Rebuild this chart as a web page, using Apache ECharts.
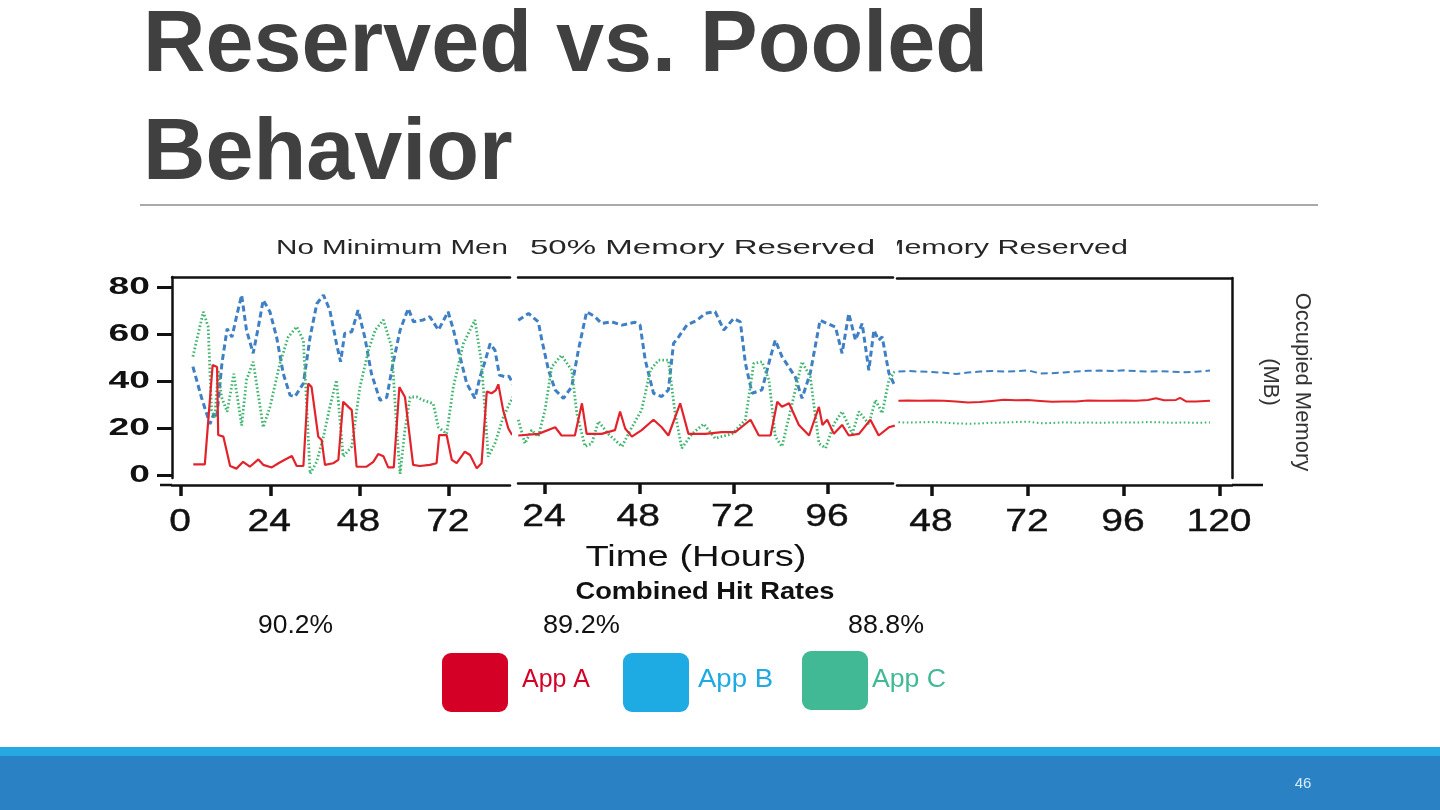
<!DOCTYPE html>
<html><head><meta charset="utf-8">
<script src="https://cdn.jsdelivr.net/npm/echarts@6/dist/echarts.min.js"></script>
<style>html,body{margin:0;padding:0;background:#fff;}#c{width:1440px;height:810px;}</style>
</head><body><div id="c"></div>
<script>
// ---------- data ----------
const hourTicksNoMin = [0, 24, 48, 72];
const hourTicksHalf = [24, 48, 72, 96];
const hourTicksFull = [48, 72, 96, 120];
const memTicks = [0, 20, 40, 60, 80];
const panelTitles = ['No Minimum Men', '50% Memory Reserved', 'Memory Reserved'];
const appNames = ['App A', 'App B', 'App C'];
const hitRates = ['90.2%', '89.2%', '88.8%'];

// No minimum memory (hours, MB)
const noMinA = [[3.3,4.5],[6.4,4.5],[8.5,46.8],[9.7,46],[10.0,17],[11.4,16.3],[13.2,3.8],[14.9,2.7],[16.7,5.6],[18.5,3.5],[20.8,6.6],[22.1,4.3],[24.4,3.2],[26.2,5],[28,6.6],[29.8,8.1],[31.1,3.8],[32.9,3.8],[34.2,38.9],[35.1,37.4],[36.9,16.3],[37.8,14.9],[38.7,4.3],[40.9,5],[42.3,6.4],[43.6,31.2],[45,29],[45.9,27.6],[47.2,3.5],[49.9,3.5],[51.7,5.6],[53,8.9],[54.4,8],[55.7,3.2],[57.2,3.2],[58.7,37.4],[60.2,33.2],[62.4,4.3],[64.2,3.8],[66.9,4.3],[68.7,5],[69.4,17],[71.4,17],[72.8,6.4],[74.1,5],[76.3,9.9],[77.7,8.5],[79.5,2.8],[80.8,5],[82.2,35.5],[83.5,34.8],[84.6,36],[85.3,38.6],[86.6,27.6],[88,19.8],[89,17]];
const noMinB = [[3.2,46.1],[5.5,33],[7.8,21.7],[8.8,26],[9.6,24.5],[11,47.5],[12.4,62.3],[13.7,58.7],[15,68],[16.3,76.6],[17.6,61.7],[19.4,51.8],[20.8,63.1],[22.1,74.5],[23.9,69.5],[25.7,58.7],[27.5,43.1],[29.3,34],[30.6,33.3],[32.9,39],[34.7,58.7],[36.5,72.9],[38.3,76.6],[40,70.2],[41.8,55.9],[42.9,48.2],[44,60.3],[45.9,61],[47.6,70.2],[49.4,58.7],[51.2,43.1],[53.5,31.8],[55.3,33],[57,47.5],[58.9,61.7],[61.1,70.9],[62.5,65.2],[65.1,66],[66.9,67.4],[69.2,61.7],[71.8,69.5],[73.2,62],[75,50.4],[76.8,39],[79,32.6],[80.4,41.8],[81.7,48.2],[83.1,55.9],[84.4,53.1],[85.6,42.5],[87.1,41.8],[88.2,42],[89.5,38]];
const noMinC = [[3.2,50.4],[6,69.5],[7.3,63.1],[8.2,27.6],[9.1,24.5],[10,44.6],[10.9,33.2],[12.4,26.9],[14.2,43.1],[16.3,21],[17.6,40.4],[19.4,48.2],[22.1,20.3],[23.9,28.9],[26.6,47.5],[28.8,58.7],[31.1,63.1],[32.9,57.3],[34.7,0.5],[36.5,5.7],[38.3,16.3],[40,28.9],[41.8,40.4],[43.6,7.8],[45.9,12.1],[48.1,37.4],[50.4,53.1],[52.2,61.7],[54.4,66],[56.6,54.6],[58,19.3],[58.9,0.5],[60.2,19.3],[61.6,33.2],[63.4,33.2],[65.1,31.8],[67.8,30.4],[69.2,20.3],[71.4,17.5],[73.2,37.4],[75.9,55.9],[79,66],[80.8,47.5],[82.6,7.8],[84.4,13.5],[86.6,24.5],[88.2,30],[89.5,34]];

// 50% memory reserved
const halfA = [[17.2,16.8],[22.3,17.5],[26.6,20.3],[28.2,16.8],[31.6,16.8],[33.4,30.5],[34.6,17.5],[38.4,17.5],[41.8,19.1],[43.1,27],[44.4,19.8],[46.1,16.3],[48.6,19.1],[51.6,23.5],[53.7,20.3],[55.4,16.8],[58.4,30.5],[60.5,17.5],[64.8,17.5],[69,18.2],[72.4,18.2],[76.3,23.5],[78.4,16.8],[81.4,16.8],[83.1,31.2],[84.3,29],[86.1,30.5],[88.6,21.3],[91.2,16.8],[93.7,29],[94.6,21.3],[95.8,23.5],[97.5,17.5],[99.6,21.3],[101.3,16.8],[103.9,17.5],[106.8,23.5],[108.9,16.8],[111.5,20.3],[113,21]];
const halfB = [[17.2,65.9],[19.8,68.8],[22.3,65.2],[23.2,57.4],[24.9,44.6],[26.6,36.2],[28.7,32.6],[30.8,37.6],[32.5,53.2],[34.6,69.5],[36.7,67.4],[38.4,64.5],[41,65.2],[43.6,63.8],[46.9,65],[48.2,63.8],[49.5,49],[51.6,34.8],[53.7,33.4],[55.4,36.2],[56.7,56],[58,58.8],[60.1,63.8],[62.7,65.9],[64.8,68.8],[67.3,69.5],[69.5,61.7],[72,66.6],[73.7,65.2],[75,47.5],[76.7,34.8],[79.2,36.2],[81.4,50.4],[82.6,57.4],[84.3,50.4],[87.7,41.7],[89.4,32.6],[91.5,43.4],[94,65.9],[95.8,64.5],[97.9,63],[99.6,51.8],[101.3,68.8],[103,57.4],[104.7,64.5],[106.4,44.6],[107.7,61.7],[108.9,57.4],[109.8,58.8],[111.5,43.4],[113,38]];
const halfC = [[17.2,23.5],[18.9,13.4],[20.6,19.1],[22.3,16.3],[24,27.7],[25.7,46],[28.2,51],[30.8,44.6],[32.1,26.3],[34.2,12.1],[35.9,13.4],[37.6,22.8],[40.1,17.5],[43.6,12.1],[45.7,19.1],[48.6,27.7],[50.8,44.6],[52.9,48.9],[55.4,48.9],[57.1,26.3],[58.8,11.4],[61.4,17.5],[64.4,21.7],[67.3,15.6],[71.6,17.5],[75,23.5],[77.1,47.5],[79.2,48.2],[81,40.4],[82.6,16.3],[84.3,12.1],[86.9,30.5],[89.4,48.2],[91.5,41.8],[93.7,13.4],[95.4,11.4],[97.5,21.7],[99.6,27],[102.2,17.5],[103.9,27],[106.4,21.7],[108.1,31.9],[109.8,26.3],[111.5,40.4],[113,44]];

// 100% memory reserved
const fullA = [[39.6,31.6],[42,31.7],[45,31.6],[48,31.7],[51,31.6],[54,31.3],[57,30.8],[60,31],[63,31.5],[66,32],[69,31.8],[72,31.9],[75,31.5],[78,31.1],[81,31.2],[84,31.3],[87,31.7],[90,31.6],[93,31.6],[96,31.7],[99,31.6],[102,31.9],[104,32.6],[106,31.8],[109,31.9],[110,32.8],[111.5,31.3],[114,31.3],[117.5,31.6]];
const fullB = [[39.6,44],[42,44.2],[45,44],[48,43.8],[51,43.5],[54,43],[57,43.6],[60,44],[63,44.2],[66,44],[69,44.1],[72,44.5],[75,43.2],[78,43.3],[81,43.6],[84,44],[87,44.3],[90,44.4],[93,44.2],[96,44.5],[99,44.2],[102,44],[105,44.2],[108,43.9],[111,43.7],[114,43.9],[117.5,44.4]];
const fullC = [[39.6,22.4],[42,22.3],[45,22.4],[48,22.5],[51,22.3],[54,21.9],[57,21.8],[60,21.9],[63,22.2],[66,22.3],[69,22.5],[72,22.7],[75,22],[78,22.1],[81,22.4],[84,22.2],[87,22.3],[90,22.2],[93,22.3],[96,22.3],[99,22.3],[102,22.5],[105,22.4],[108,22.2],[111,22.3],[114,22.2],[117.5,22.3]];

// ---------- helpers ----------
const AX = '#111';
const mctx = document.createElement('canvas').getContext('2d');
function measure(str, font) { mctx.font = font; return mctx.measureText(str).width; }
function T(str, x, y, font, fill, align, target, extra) {
  const w = measure(str, font);
  const sx = target ? target / w : 1;
  return Object.assign({
    type: 'text', x: x, y: y, scaleX: sx, silent: true, z: 10,
    style: { text: str, font: font, fill: fill, textAlign: align || 'left', textVerticalAlign: 'middle' }
  }, extra || {});
}
function bottomX(gi, min, max, ticks, offset) {
  return {
    type: 'value', gridIndex: gi, position: 'bottom', min: min, max: max, offset: offset,
    axisLine: { show: true, onZero: false, lineStyle: { color: AX, width: 2.5 } },
    axisTick: { show: true, customValues: ticks, length: 11, lineStyle: { color: AX, width: 3.5 } },
    axisLabel: { show: false },
    splitLine: { show: false }
  };
}
function topX(gi, min, max) {
  return {
    type: 'value', gridIndex: gi, position: 'top', min: min, max: max,
    axisLine: { show: true, onZero: false, lineStyle: { color: AX, width: 2.5 } },
    axisTick: { show: false }, axisLabel: { show: false }, splitLine: { show: false }
  };
}
function hiddenY(gi, min, max) {
  return { type: 'value', gridIndex: gi, min: min, max: max, show: false, splitLine: { show: false } };
}
const styleA = { color: '#e3232b', width: 2.2 };
const styleB = { color: '#3f7fc3', width: 3, type: [6, 3.5] };
const styleC = { color: '#3fb56f', width: 2.8, type: [1.6, 2.2] };
const styleA3 = { color: '#e3232b', width: 2 };
const styleB3 = { color: '#3f7fc3', width: 2, type: [7, 4] };
const styleC3 = { color: '#3fb56f', width: 2, type: [1.6, 2.6] };
function L(name, data, gi, ls) {
  return { type: 'line', name: name, data: data, xAxisIndex: gi * 2, yAxisIndex: gi, symbol: 'none', showSymbol: false,
    lineStyle: ls, silent: true, animation: false, clip: true };
}

const chart = echarts.init(document.getElementById('c'), null, { renderer: 'canvas' });

const titleFont = 'bold 88px "Liberation Sans", Arial, sans-serif';
const titleScale = 845 / measure('Reserved vs. Pooled', titleFont);
const ptFont = '21px "Liberation Sans", Arial, sans-serif';
const F = '"Liberation Sans", Arial, sans-serif';

const staticGraphics = [
  // slide title
  T('Reserved vs. Pooled', 143, 47, titleFont, '#404040', 'left', 845),
  T('Behavior', 143, 155, titleFont, '#404040', 'left', null, { scaleX: titleScale }),
  { type: 'line', shape: { x1: 140, y1: 205, x2: 1318, y2: 205 }, style: { stroke: '#8c8c8c', lineWidth: 1.3 }, silent: true },
  // panel titles
  T(panelTitles[0], 276, 248, ptFont, '#262626', 'left', 232),
  T(panelTitles[1], 530, 248, ptFont, '#262626', 'left', 345),
  T(panelTitles[2], 1128, 248, ptFont, '#262626', 'right', 249),
  { type: 'rect', shape: { x: 877, y: 230, width: 20, height: 40 }, style: { fill: '#fff' }, silent: true, z: 11 },
  // axis extensions
  { type: 'line', shape: { x1: 160, y1: 485, x2: 172, y2: 485 }, style: { stroke: AX, lineWidth: 2.5 }, silent: true },
  { type: 'line', shape: { x1: 1232, y1: 485, x2: 1263, y2: 485 }, style: { stroke: AX, lineWidth: 2.5 }, silent: true },
  // axis titles
  T('Time (Hours)', 696, 558, '30px ' + F, '#111', 'center', 221),
  T('Occupied Memory', 1302, 382, '22px ' + F, '#333', 'center', null, { rotation: -Math.PI / 2 }),
  T('(MB)', 1270, 382, '22px ' + F, '#333', 'center', null, { rotation: -Math.PI / 2 }),
  // hit rates
  T('Combined Hit Rates', 705, 592, 'bold 24px ' + F, '#111', 'center', 259),
  T(hitRates[0], 258, 626, '25px ' + F, '#111', 'left', 75),
  T(hitRates[1], 543, 626, '25px ' + F, '#111', 'left', 77),
  T(hitRates[2], 848, 626, '25px ' + F, '#111', 'left', 76),
  // legend
  { type: 'rect', shape: { x: 442, y: 653, width: 66, height: 59, r: 9 }, style: { fill: '#d50026' }, silent: true },
  { type: 'rect', shape: { x: 623, y: 653, width: 66, height: 59, r: 9 }, style: { fill: '#1eaae2' }, silent: true },
  { type: 'rect', shape: { x: 802, y: 651, width: 66, height: 59, r: 9 }, style: { fill: '#41b995' }, silent: true },
  T(appNames[0], 522, 680, '25px ' + F, '#d50026', 'left', 68),
  T(appNames[1], 698, 680, '25px ' + F, '#1eaae2', 'left', 75),
  T(appNames[2], 872, 680, '25px ' + F, '#41b995', 'left', 74),
  // footer
  { type: 'rect', shape: { x: 0, y: 747, width: 1440, height: 9 }, style: { fill: '#26a9e1' }, silent: true },
  { type: 'rect', shape: { x: 0, y: 756, width: 1440, height: 54 }, style: { fill: '#2a81c4' }, silent: true },
  T('46', 1303, 784, '15px ' + F, '#d6ecf9', 'center')
];

const option = {
  backgroundColor: '#ffffff',
  animation: false,
  grid: [
    { left: 172, top: 277, width: 338, height: 201 },
    { left: 518, top: 277, width: 375, height: 201 },
    { left: 897, top: 278, width: 335, height: 200 }
  ],
  xAxis: [
    bottomX(0, -2.42, 88.44, hourTicksNoMin, 7), topX(0, -2.42, 88.44),
    bottomX(1, 17.13, 112.55, hourTicksHalf, 5), topX(1, 17.13, 112.55),
    bottomX(2, 39.25, 123, hourTicksFull, 7), topX(2, 39.25, 123)
  ],
  yAxis: [
    {
      type: 'value', gridIndex: 0, position: 'left', min: -1.3, max: 84.3,
      axisLine: { show: true, onZero: false, lineStyle: { color: AX, width: 2.5 } },
      axisTick: { show: true, customValues: memTicks, length: 15, lineStyle: { color: AX, width: 3 } },
      axisLabel: { show: false },
      splitLine: { show: false }
    },
    hiddenY(1, -1.3, 84.3),
    hiddenY(2, -1.3, 83.8),
    {
      type: 'value', gridIndex: 2, position: 'right', min: -1.3, max: 83.8,
      axisLine: { show: true, onZero: false, lineStyle: { color: AX, width: 2.5 } },
      axisTick: { show: false }, axisLabel: { show: false }, splitLine: { show: false }
    }
  ],
  series: [
    L(appNames[1], noMinB, 0, styleB), L(appNames[2], noMinC, 0, styleC), L(appNames[0], noMinA, 0, styleA),
    L(appNames[1], halfB, 1, styleB), L(appNames[2], halfC, 1, styleC), L(appNames[0], halfA, 1, styleA),
    L(appNames[1], fullB, 2, styleB3), L(appNames[2], fullC, 2, styleC3), L(appNames[0], fullA, 2, styleA3)
  ],
  graphic: { elements: staticGraphics }
};
chart.setOption(option);

// tick labels placed through the axes' own scales (stretched like the source figure)
const tickGraphics = [];
const yFont = 'bold 24px ' + F;
memTicks.forEach(function (v) {
  const py = chart.convertToPixel({ yAxisIndex: 0 }, v);
  tickGraphics.push(T(String(v), 150, py, yFont, '#111', 'right', null, { scaleX: 1.55 }));
});
const xFont = '32px ' + F;
[[0, hourTicksNoMin, 522], [2, hourTicksHalf, 517], [4, hourTicksFull, 522]].forEach(function (cfg) {
  cfg[1].forEach(function (v) {
    const px = chart.convertToPixel({ xAxisIndex: cfg[0] }, v);
    tickGraphics.push(T(String(v), px - 1, cfg[2], xFont, '#111', 'center', null, { scaleX: 1.22, style: { text: String(v), font: xFont, fill: '#111', textAlign: 'center', textVerticalAlign: 'middle', stroke: '#111', lineWidth: 0.4 } }));
  });
});
chart.setOption({ graphic: { elements: staticGraphics.concat(tickGraphics) } });
</script></body></html>
